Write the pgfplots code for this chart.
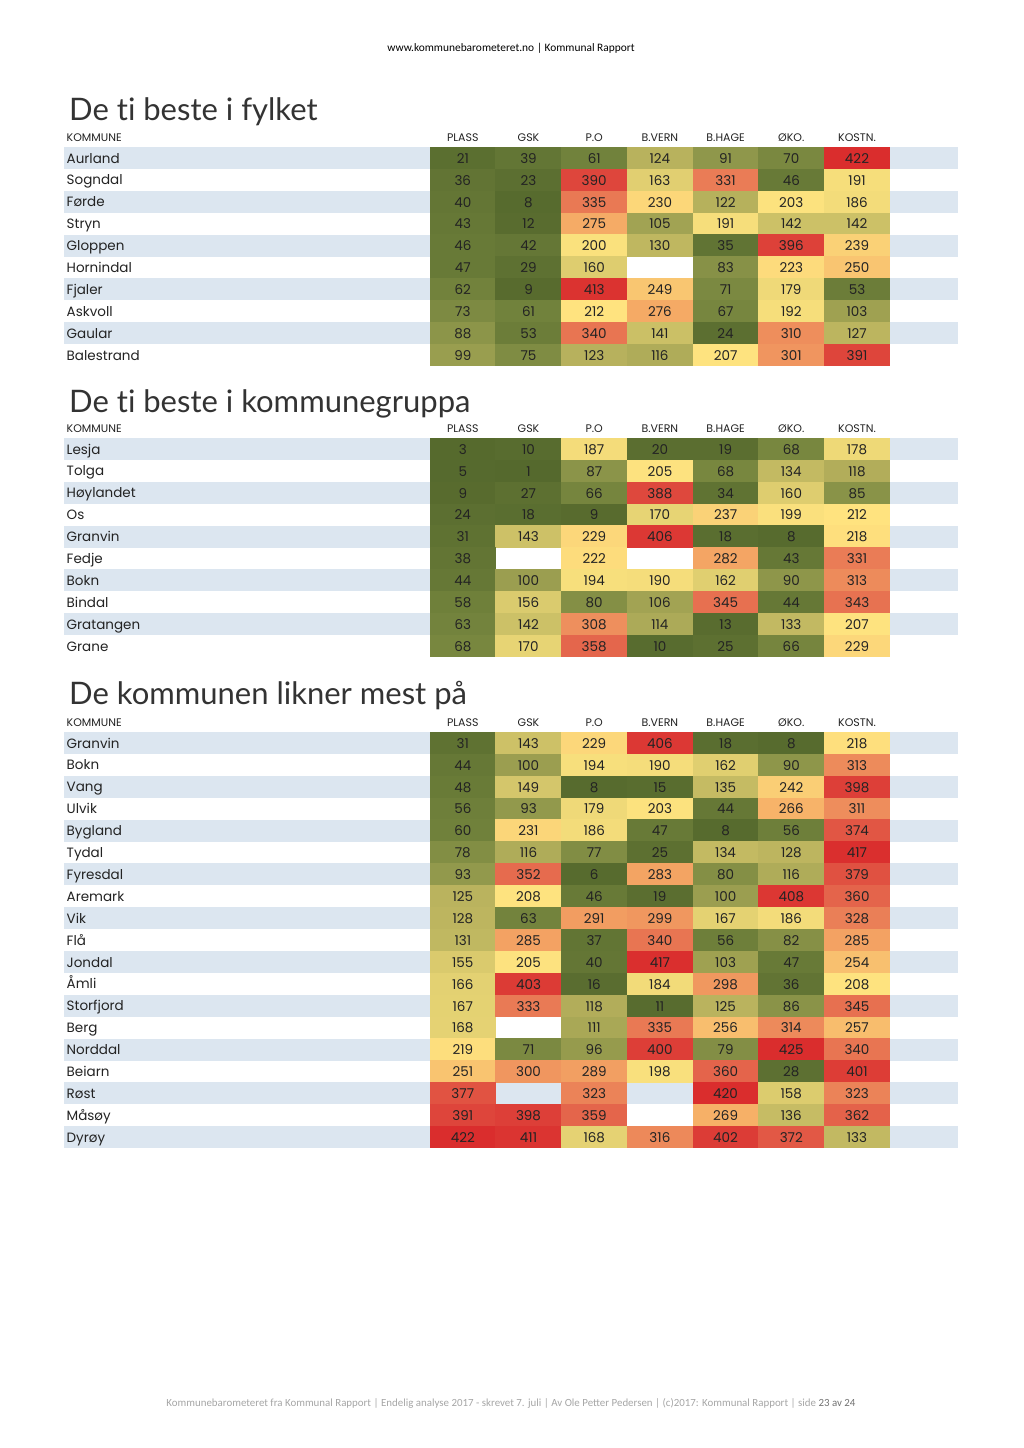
\documentclass[border=0pt]{standalone}
\usepackage{pgfplots}
\usepackage{pgfplotstable}
\pgfplotsset{compat=1.18}
\usepackage{graphicx}
\usepackage{fontspec}
\setmainfont{Poppins}
\newfontfamily\titlefont{Lato}[Ligatures=NoCommon]
\newfontfamily\calfont{Carlito}

\definecolor{stripe}{RGB}{220,230,240}
\definecolor{txt}{RGB}{35,35,35}

% c = column (PLASS..KOSTN.), r = row, v = rank; empty cells are left out
\pgfplotstableread[row sep=\\]{
c r v\\
0 0 21\\ 1 0 39\\ 2 0 61\\ 3 0 124\\ 4 0 91\\ 5 0 70\\ 6 0 422\\
0 1 36\\ 1 1 23\\ 2 1 390\\ 3 1 163\\ 4 1 331\\ 5 1 46\\ 6 1 191\\
0 2 40\\ 1 2 8\\ 2 2 335\\ 3 2 230\\ 4 2 122\\ 5 2 203\\ 6 2 186\\
0 3 43\\ 1 3 12\\ 2 3 275\\ 3 3 105\\ 4 3 191\\ 5 3 142\\ 6 3 142\\
0 4 46\\ 1 4 42\\ 2 4 200\\ 3 4 130\\ 4 4 35\\ 5 4 396\\ 6 4 239\\
0 5 47\\ 1 5 29\\ 2 5 160\\ 4 5 83\\ 5 5 223\\ 6 5 250\\
0 6 62\\ 1 6 9\\ 2 6 413\\ 3 6 249\\ 4 6 71\\ 5 6 179\\ 6 6 53\\
0 7 73\\ 1 7 61\\ 2 7 212\\ 3 7 276\\ 4 7 67\\ 5 7 192\\ 6 7 103\\
0 8 88\\ 1 8 53\\ 2 8 340\\ 3 8 141\\ 4 8 24\\ 5 8 310\\ 6 8 127\\
0 9 99\\ 1 9 75\\ 2 9 123\\ 3 9 116\\ 4 9 207\\ 5 9 301\\ 6 9 391\\
}\fylket

\pgfplotstableread[row sep=\\]{
c r v\\
0 0 3\\ 1 0 10\\ 2 0 187\\ 3 0 20\\ 4 0 19\\ 5 0 68\\ 6 0 178\\
0 1 5\\ 1 1 1\\ 2 1 87\\ 3 1 205\\ 4 1 68\\ 5 1 134\\ 6 1 118\\
0 2 9\\ 1 2 27\\ 2 2 66\\ 3 2 388\\ 4 2 34\\ 5 2 160\\ 6 2 85\\
0 3 24\\ 1 3 18\\ 2 3 9\\ 3 3 170\\ 4 3 237\\ 5 3 199\\ 6 3 212\\
0 4 31\\ 1 4 143\\ 2 4 229\\ 3 4 406\\ 4 4 18\\ 5 4 8\\ 6 4 218\\
0 5 38\\ 2 5 222\\ 4 5 282\\ 5 5 43\\ 6 5 331\\
0 6 44\\ 1 6 100\\ 2 6 194\\ 3 6 190\\ 4 6 162\\ 5 6 90\\ 6 6 313\\
0 7 58\\ 1 7 156\\ 2 7 80\\ 3 7 106\\ 4 7 345\\ 5 7 44\\ 6 7 343\\
0 8 63\\ 1 8 142\\ 2 8 308\\ 3 8 114\\ 4 8 13\\ 5 8 133\\ 6 8 207\\
0 9 68\\ 1 9 170\\ 2 9 358\\ 3 9 10\\ 4 9 25\\ 5 9 66\\ 6 9 229\\
}\gruppa

\pgfplotstableread[row sep=\\]{
c r v\\
0 0 31\\ 1 0 143\\ 2 0 229\\ 3 0 406\\ 4 0 18\\ 5 0 8\\ 6 0 218\\
0 1 44\\ 1 1 100\\ 2 1 194\\ 3 1 190\\ 4 1 162\\ 5 1 90\\ 6 1 313\\
0 2 48\\ 1 2 149\\ 2 2 8\\ 3 2 15\\ 4 2 135\\ 5 2 242\\ 6 2 398\\
0 3 56\\ 1 3 93\\ 2 3 179\\ 3 3 203\\ 4 3 44\\ 5 3 266\\ 6 3 311\\
0 4 60\\ 1 4 231\\ 2 4 186\\ 3 4 47\\ 4 4 8\\ 5 4 56\\ 6 4 374\\
0 5 78\\ 1 5 116\\ 2 5 77\\ 3 5 25\\ 4 5 134\\ 5 5 128\\ 6 5 417\\
0 6 93\\ 1 6 352\\ 2 6 6\\ 3 6 283\\ 4 6 80\\ 5 6 116\\ 6 6 379\\
0 7 125\\ 1 7 208\\ 2 7 46\\ 3 7 19\\ 4 7 100\\ 5 7 408\\ 6 7 360\\
0 8 128\\ 1 8 63\\ 2 8 291\\ 3 8 299\\ 4 8 167\\ 5 8 186\\ 6 8 328\\
0 9 131\\ 1 9 285\\ 2 9 37\\ 3 9 340\\ 4 9 56\\ 5 9 82\\ 6 9 285\\
0 10 155\\ 1 10 205\\ 2 10 40\\ 3 10 417\\ 4 10 103\\ 5 10 47\\ 6 10 254\\
0 11 166\\ 1 11 403\\ 2 11 16\\ 3 11 184\\ 4 11 298\\ 5 11 36\\ 6 11 208\\
0 12 167\\ 1 12 333\\ 2 12 118\\ 3 12 11\\ 4 12 125\\ 5 12 86\\ 6 12 345\\
0 13 168\\ 2 13 111\\ 3 13 335\\ 4 13 256\\ 5 13 314\\ 6 13 257\\
0 14 219\\ 1 14 71\\ 2 14 96\\ 3 14 400\\ 4 14 79\\ 5 14 425\\ 6 14 340\\
0 15 251\\ 1 15 300\\ 2 15 289\\ 3 15 198\\ 4 15 360\\ 5 15 28\\ 6 15 401\\
0 16 377\\ 2 16 323\\ 4 16 420\\ 5 16 158\\ 6 16 323\\
0 17 391\\ 1 17 398\\ 2 17 359\\ 4 17 269\\ 5 17 136\\ 6 17 362\\
0 18 422\\ 1 18 411\\ 2 18 168\\ 3 18 316\\ 4 18 402\\ 5 18 372\\ 6 18 133\\
}\likner

% one heat-map cell, sized to the column / row pitch
\pgfdeclareplotmark{cell}{%
  \pgfpathrectangle{\pgfqpoint{-33.1pt}{-11.2pt}}{\pgfqpoint{66.2pt}{22.4pt}}%
  \pgfusepathqfill}

\pgfplotsset{
  heattab/.style={
    x=65.7pt, y=21.9pt, y dir=reverse,
    xmin=-6.07, xmax=7.53, ymin=-0.5,
    anchor=north west,
    axis on top, clip=false,
    axis line style={draw=none},
    tick style={draw=none},
    major tick length=0pt,
    xtick={0,...,6},
    xticklabels={PLASS,GSK,P.O,B.VERN,B.HAGE,ØKO.,KOSTN.},
    xticklabel pos=right,
    xticklabel style={anchor=base, inner sep=0pt, yshift=5.5pt,
      font=\fontsize{11}{12}\selectfont, text=txt},
    ytick={0,...,18},
    yticklabel style={anchor=base west, inner sep=0pt, xshift=2.5pt, yshift=-5pt,
      font=\fontsize{13.5}{15}\selectfont, text=txt},
    % green (good) -> yellow -> red (bad), one entry every 30 places
    colormap={heat}{
      rgb255=(85,105,45) rgb255=(94,113,50) rgb255=(112,129,59)
      rgb255=(142,150,74) rgb255=(180,175,91) rgb255=(213,199,107)
      rgb255=(240,218,120) rgb255=(255,228,128) rgb255=(250,208,118)
      rgb255=(246,175,103) rgb255=(240,150,95) rgb255=(234,125,86)
      rgb255=(228,100,75) rgb255=(222,70,60) rgb255=(218,45,45)},
    point meta min=0, point meta max=420,
  },
  cells/.style={
    scatter, only marks, mark=cell, point meta=explicit,
    scatter/use mapped color={draw=none, fill=mapped color},
  },
  vals/.style={
    draw=none, mark=none, point meta=explicit,
    nodes near coords,
    nodes near coords style={/pgf/number format/assume math mode=true},
    every node near coord/.append style={anchor=base, inner sep=0pt, yshift=-5.2pt,
      font=\fontsize{13.5}{15}\selectfont, text=txt},
  },
}

\newcommand\kommunehdr{\node[anchor=base west, inner sep=0pt, text=txt,
  font=\fontsize{11}{12}\selectfont] at ([xshift=2.5pt,yshift=5.5pt]axis cs:-6.07,-0.5) {KOMMUNE};}

\begin{document}
\begin{tikzpicture}
\fill[white] (0,0) rectangle (1024pt,-1448pt);
\useasboundingbox (0,0) rectangle (1024pt,-1448pt);

\node[anchor=base, inner sep=0pt, font=\calfont\fontsize{11.4}{14}\selectfont]
  at (511pt,-51pt) {www.kommunebarometeret.no | Kommunal Rapport};

% ---------- De ti beste i fylket
\node[anchor=base west, inner sep=0pt, font=\titlefont\fontsize{31}{36}\selectfont, text=black!80]
  at (69pt,-120pt) {De ti beste i fylket};
\begin{axis}[heattab, at={(64pt,-147.05pt)}, ymax=9.5,
  yticklabels={Aurland,Sogndal,Førde,Stryn,Gloppen,Hornindal,Fjaler,Askvoll,Gaular,Balestrand}]
\pgfplotsinvokeforeach{0,2,4,6,8}{\fill[stripe] (axis cs:-6.07,#1-0.5) rectangle (axis cs:7.53,#1+0.5);}
\kommunehdr
\addplot[cells] table[x=c, y=r, meta=v] {\fylket};
\addplot[vals] table[x=c, y=r, meta=v] {\fylket};
\end{axis}

% ---------- De ti beste i kommunegruppa
\node[anchor=base west, inner sep=0pt, font=\titlefont\fontsize{31}{36}\selectfont, text=black!80]
  at (69pt,-412pt) {De ti beste i kommunegruppa};
\begin{axis}[heattab, at={(64pt,-438.05pt)}, ymax=9.5,
  yticklabels={Lesja,Tolga,Høylandet,Os,Granvin,Fedje,Bokn,Bindal,Gratangen,Grane}]
\pgfplotsinvokeforeach{0,2,4,6,8}{\fill[stripe] (axis cs:-6.07,#1-0.5) rectangle (axis cs:7.53,#1+0.5);}
\kommunehdr
\addplot[cells] table[x=c, y=r, meta=v] {\gruppa};
\addplot[vals] table[x=c, y=r, meta=v] {\gruppa};
\end{axis}

% ---------- De kommunen likner mest på
\node[anchor=base west, inner sep=0pt, font=\titlefont\fontsize{31}{36}\selectfont, text=black!80]
  at (69pt,-704pt) {De kommunen likner mest på};
\begin{axis}[heattab, at={(64pt,-732.05pt)}, ymax=18.5,
  yticklabels={Granvin,Bokn,Vang,Ulvik,Bygland,Tydal,Fyresdal,Aremark,Vik,Flå,Jondal,Åmli,Storfjord,Berg,Norddal,Beiarn,Røst,Måsøy,Dyrøy}]
\pgfplotsinvokeforeach{0,2,4,6,8,10,12,14,16,18}{\fill[stripe] (axis cs:-6.07,#1-0.5) rectangle (axis cs:7.53,#1+0.5);}
\kommunehdr
\addplot[cells] table[x=c, y=r, meta=v] {\likner};
\addplot[vals] table[x=c, y=r, meta=v] {\likner};
\end{axis}

\node[anchor=base, inner sep=0pt, text=black!35] at (511pt,-1406pt)
  {\resizebox{689pt}{!}{\calfont\fontsize{12}{14}\selectfont Kommunebarometeret fra Kommunal Rapport | Endelig analyse 2017 - skrevet 7. juli | Av Ole Petter Pedersen | (c)2017: Kommunal Rapport | side {\color{black!55}23 av 24}}};
\end{tikzpicture}
\end{document}
